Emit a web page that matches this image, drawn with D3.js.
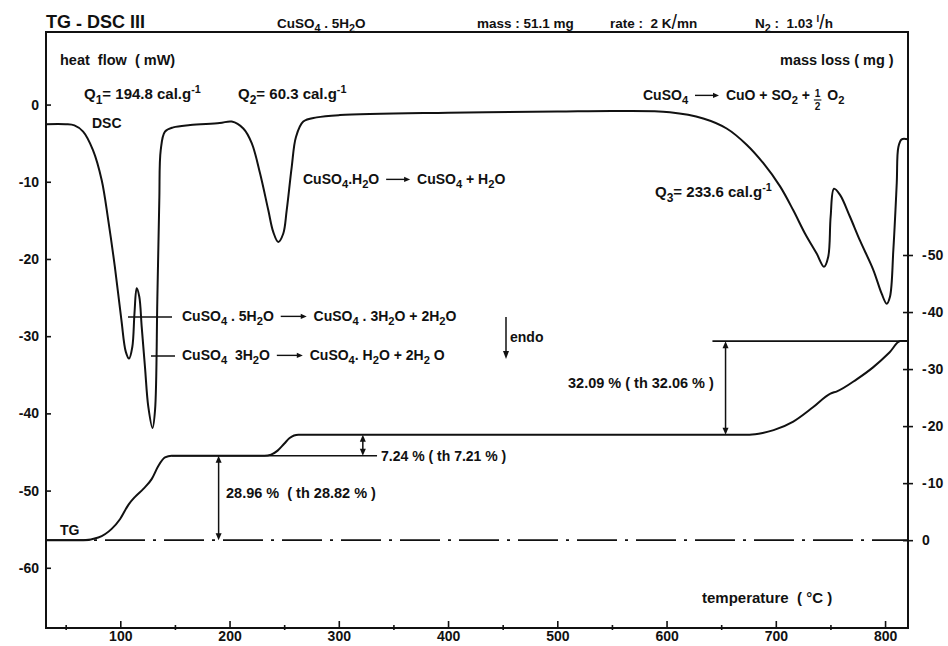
<!DOCTYPE html>
<html>
<head>
<meta charset="utf-8">
<script src="https://cdn.jsdelivr.net/npm/d3@7"></script>
<style>
  body { margin: 0; background: #fff; }
  svg { display: block; }
  text { font-family: "Liberation Sans", Arial, sans-serif; font-weight: bold; fill: #111; white-space: pre; }
</style>
</head>
<body>
<svg id="chart" width="948" height="646"></svg>
<script>
// DSC trace: temperature (°C) and heat flow (mW)
const dscTemp = [32,50,58,66,75,83,89,95,101,105,108,111,113,115,117.4,119.6,122.6,125.6,129.5,131.8,
  133.9,135.7,137,140.9,148.5,164,191,202,212.6,220.3,227.9,235.5,240,244.6,249.2,252.3,256.9,260.8,267.5,279.8,
  301,400,500,557,603,633.6,655,673.3,688.6,703.9,716,726.7,737.4,744.1,748,750.2,753.3,758.8,767.8,777,
  789.2,796.9,801.5,804.5,807.6,810.7,812.2,815.2,821];
const dscHeatFlow = [-2.55,-2.55,-2.7,-3.5,-5.9,-9.8,-15,-21,-27.9,-32,-32.9,-31.4,-27,-23.8,-24.9,-28.8,-34,-39.1,-41.9,-39.6,
  -25.3,-12.4,-5.9,-3.5,-2.95,-2.65,-2.4,-2.2,-3.1,-5.0,-8.9,-13.7,-16.5,-17.8,-16.7,-13.7,-8.1,-4.2,-2.2,-1.66,
  -1.36,-1.05,-0.9,-0.84,-1.0,-1.8,-3.1,-5.2,-7.6,-10.6,-13.7,-16.7,-19.3,-21,-19.7,-14.5,-10.9,-11.7,-14.5,-17.6,
  -21.4,-24.5,-25.8,-24.9,-18.8,-10.2,-5.5,-4.5,-4.5];

// TG trace: temperature (°C) and mass change (mg)
const tgTemp = [32,66.2,79.9,92.1,99.7,107.4,113.5,121.1,128.7,134.8,140.9,147,232,238,244,250,255,259,263,676,
  688,698,716,734,750,756,774,789,804,814,821];
const tgMass = [0,0,-0.46,-1.98,-3.67,-6.2,-7.6,-9.0,-10.7,-13.0,-14.5,-14.8,-14.8,-15.0,-15.7,-16.9,-17.9,-18.35,-18.5,-18.5,
  -18.8,-19.3,-20.8,-23.3,-25.7,-26.1,-28.2,-30.3,-32.9,-34.9,-34.9];

// Mass-loss steps (% of the initial sample) with theoretical values
const sampleMass = 51.1;
const lossPct = [28.96, 7.24, 32.09];
const lossTheo = [28.82, 7.21, 32.06];
const lossArrowTemp = [190, 322, 654];

// Axis ticks
const tempTicks = [100, 200, 300, 400, 500, 600, 700, 800];
const tempMinorTicks = [50, 150, 250, 350, 450, 550, 650, 750];
const heatFlowTicks = [0, -10, -20, -30, -40, -50, -60];
const massTicks = [0, -10, -20, -30, -40, -50];

const svg = d3.select("#chart");
const P = { l: 46, r: 908, t: 32, b: 628 };

const x = d3.scaleLinear().domain([32, 821]).range([P.l, P.r]);
const yHF = d3.scaleLinear().domain([-67.8, 9.4]).range([P.b, P.t]);
const yM = d3.scaleLinear().domain([15.4, -89.1]).range([P.b, P.t]);

// TG plateau levels follow from the measured step percentages
const levels = [0];
lossPct.forEach(p => levels.push(levels[levels.length - 1] - p * sampleMass / 100));

// ---------- rich text (subscripts, superscripts, reaction arrows, fractions) ----------
// _x subscript, ^{..} superscript, -> arrow, [a|b] fraction, ` large slash
function tokenize(s) {
  const out = []; let buf = "";
  const flush = () => { if (buf) { out.push({ k: "t", s: buf }); buf = ""; } };
  for (let i = 0; i < s.length; i++) {
    const c = s[i];
    if (c === "_") { flush(); out.push({ k: "sub", s: s[i + 1] }); i++; }
    else if (c === "^") { flush(); const j = s.indexOf("}", i); out.push({ k: "sup", s: s.slice(i + 2, j) }); i = j; }
    else if (c === "-" && s[i + 1] === ">") { flush(); out.push({ k: "arrow" }); i++; }
    else if (c === "[") { flush(); const j = s.indexOf("]", i); const [n, d] = s.slice(i + 1, j).split("|"); out.push({ k: "frac", n, d }); i = j; }
    else if (c === "`") { flush(); out.push({ k: "slash" }); }
    else buf += c;
  }
  flush();
  return out;
}

function richText(parent, x0, y0, markup, size = 14, arrowLen = 26) {
  const g = parent.append("g");
  let cx = x0;
  const put = (s, xx, yy, fs, anchor, weight) => {
    const t = g.append("text").attr("x", xx).attr("y", yy).style("font-size", fs + "px").text(s);
    if (anchor) t.attr("text-anchor", anchor);
    if (weight) t.style("font-weight", weight);
    return t.node().getComputedTextLength();
  };
  tokenize(markup).forEach(tok => {
    if (tok.k === "t") cx += put(tok.s, cx, y0, size);
    else if (tok.k === "sub") cx += put(tok.s, cx, y0 + size * 0.3, size * 0.8);
    else if (tok.k === "sup") cx += put(tok.s, cx, y0 - size * 0.42, size * 0.72);
    else if (tok.k === "slash") cx += put("/", cx, y0 + 1, size * 1.45, null, "normal");
    else if (tok.k === "arrow") {
      const ay = y0 - size * 0.33, x1 = cx + 3, x2 = cx + arrowLen - 3;
      g.append("line").attr("x1", x1).attr("x2", x2 - 5).attr("y1", ay).attr("y2", ay)
        .attr("stroke", "#111").attr("stroke-width", 1.4);
      g.append("path").attr("d", `M${x2},${ay}L${x2 - 6},${ay - 2.6}L${x2 - 6},${ay + 2.6}Z`).attr("fill", "#111");
      cx += arrowLen;
    } else if (tok.k === "frac") {
      const fs = size * 0.72, w = fs * 0.75;
      put(tok.n, cx + w / 2, y0 - size * 0.18, fs, "middle");
      put(tok.d, cx + w / 2, y0 + size * 0.72, fs, "middle");
      g.append("line").attr("x1", cx).attr("x2", cx + w).attr("y1", y0).attr("y2", y0)
        .attr("stroke", "#111").attr("stroke-width", 1.1);
      cx += w + 2;
    }
  });
  return g;
}

// ---------- frame and axes ----------
svg.append("rect").attr("x", P.l).attr("y", P.t).attr("width", P.r - P.l).attr("height", P.b - P.t)
  .attr("fill", "none").attr("stroke", "#111").attr("stroke-width", 2);

const tickStyle = g => {
  g.select(".domain").remove();
  g.selectAll(".tick line").attr("stroke", "#111").attr("stroke-width", 1.6);
  g.selectAll(".tick text").attr("fill", "#111").style("font-size", "14px")
    .style("font-family", "'Liberation Sans', Arial, sans-serif").style("font-weight", "bold");
};

svg.append("g").attr("transform", `translate(0,${P.b})`)
  .call(d3.axisBottom(x).tickValues(tempTicks).tickSize(-7).tickPadding(3).tickFormat(d3.format("d")))
  .call(tickStyle);
svg.append("g").attr("transform", `translate(0,${P.b})`)
  .call(d3.axisBottom(x).tickValues(tempMinorTicks).tickSize(3).tickFormat(""))
  .call(tickStyle)
  .call(g => g.selectAll(".tick line").attr("y1", -3).attr("y2", 2));

svg.append("g").attr("transform", `translate(${P.l},0)`)
  .call(d3.axisLeft(yHF).tickValues(heatFlowTicks).tickSize(-5).tickPadding(7).tickFormat(d => d === 0 ? "0" : "-" + Math.abs(d)))
  .call(tickStyle);

svg.append("g").attr("transform", `translate(${P.r},0)`)
  .call(d3.axisRight(yM).tickValues(massTicks).tickSize(5).tickPadding(9).tickFormat(d => d === 0 ? "0" : "-\u200A" + Math.abs(d)))
  .call(tickStyle)
  .call(g => g.selectAll(".tick line").attr("x1", -5).attr("x2", 5));

// ---------- TG zero baseline (dash-dot) ----------
svg.append("line").attr("x1", x(32)).attr("x2", x(821)).attr("y1", yM(0)).attr("y2", yM(0))
  .attr("stroke", "#111").attr("stroke-width", 1.6).attr("stroke-dasharray", "40,8,3,8");

// Reference lines marking the TG plateaus
svg.append("line").attr("x1", x(147)).attr("x2", x(335)).attr("y1", yM(levels[1])).attr("y2", yM(levels[1]))
  .attr("stroke", "#111").attr("stroke-width", 1.6);
svg.append("line").attr("x1", x(642)).attr("x2", x(821)).attr("y1", yM(levels[3])).attr("y2", yM(levels[3]))
  .attr("stroke", "#111").attr("stroke-width", 1.6);

// ---------- curves ----------
const dscData = dscTemp.map((t, i) => [t, dscHeatFlow[i]]);
const tgData = tgTemp.map((t, i) => [t, tgMass[i]]);

svg.append("path").datum(dscData)
  .attr("d", d3.line().x(d => x(d[0])).y(d => yHF(d[1])).curve(d3.curveCatmullRom.alpha(0.5)))
  .attr("fill", "none").attr("stroke", "#111").attr("stroke-width", 2).attr("stroke-linejoin", "round");

svg.append("path").datum(tgData)
  .attr("d", d3.line().x(d => x(d[0])).y(d => yM(d[1])).curve(d3.curveMonotoneX))
  .attr("fill", "none").attr("stroke", "#111").attr("stroke-width", 2).attr("stroke-linejoin", "round");

// ---------- mass-loss arrows ----------
function doubleArrow(xp, ya, yb) {
  const g = svg.append("g");
  g.append("line").attr("x1", xp).attr("x2", xp).attr("y1", ya + 5).attr("y2", yb - 5)
    .attr("stroke", "#111").attr("stroke-width", 1.5);
  g.append("path").attr("d", `M${xp},${ya}L${xp - 3},${ya + 7}L${xp + 3},${ya + 7}Z`).attr("fill", "#111");
  g.append("path").attr("d", `M${xp},${yb}L${xp - 3},${yb - 7}L${xp + 3},${yb - 7}Z`).attr("fill", "#111");
}
lossArrowTemp.forEach((t, i) => doubleArrow(x(t), yM(levels[i + 1]), yM(levels[i])));

// ---------- text ----------
const title = svg.append("text").attr("x", 46).attr("y", 28).style("font-size", "18px");
title.append("tspan").text("TG ");
title.append("tspan").attr("dy", 2).text("-");
title.append("tspan").attr("dy", -2).text(" DSC III");

richText(svg, 277, 28, "CuSO_4 . 5H_2O", 13.5);
richText(svg, 477, 28, "mass : 51.1 mg", 13.5);
richText(svg, 610, 28, "rate :  2 K`mn", 13.5);
richText(svg, 755, 28, "N_2 :  1.03 ^{l}`h", 13.5);

richText(svg, 60, 65, "heat  flow  ( mW)", 14.5);
richText(svg, 780, 65, "mass loss ( mg )", 14.5);

richText(svg, 84, 99, "Q_1= 194.8 cal.g^{-1}", 15);
richText(svg, 238, 99, "Q_2= 60.3 cal.g^{-1}", 15);
richText(svg, 643, 100, "CuSO_4 -> CuO + SO_2 + [1|2] O_2", 14, 30);
richText(svg, 92, 128, "DSC", 14);

richText(svg, 303, 184, "CuSO_4.H_2O -> CuSO_4 + H_2O", 14, 30);
richText(svg, 655, 197, "Q_3= 233.6 cal.g^{-1}", 15);

// labels pointing at the two overlapping peaks
svg.append("line").attr("x1", 128).attr("x2", 172).attr("y1", 317).attr("y2", 317).attr("stroke", "#111").attr("stroke-width", 1.5);
svg.append("line").attr("x1", 151).attr("x2", 175).attr("y1", 356).attr("y2", 356).attr("stroke", "#111").attr("stroke-width", 1.5);
richText(svg, 182, 321, "CuSO_4 . 5H_2O -> CuSO_4 . 3H_2O + 2H_2O", 14, 32);
richText(svg, 182, 360, "CuSO_4  3H_2O -> CuSO_4. H_2O + 2H_2 O", 14, 32);

// endothermic direction
svg.append("line").attr("x1", 506).attr("x2", 506).attr("y1", 317).attr("y2", 352).attr("stroke", "#111").attr("stroke-width", 1.5);
svg.append("path").attr("d", "M506,359L503,351L509,351Z").attr("fill", "#111");
richText(svg, 510, 342, "endo", 14);

// mass-loss step labels
const fmt = d3.format(".2f");
richText(svg, 226, 498, `${fmt(lossPct[0])} %  ( th ${fmt(lossTheo[0])} % )`, 14.5);
richText(svg, 381, 461, `${fmt(lossPct[1])} % ( th ${fmt(lossTheo[1])} % )`, 14);
richText(svg, 568, 388, `${fmt(lossPct[2])} % ( th ${fmt(lossTheo[2])} % )`, 14.5);
richText(svg, 60, 535, "TG", 14);

richText(svg, 702, 603, "temperature  ( °C )", 15);
</script>
</body>
</html>
